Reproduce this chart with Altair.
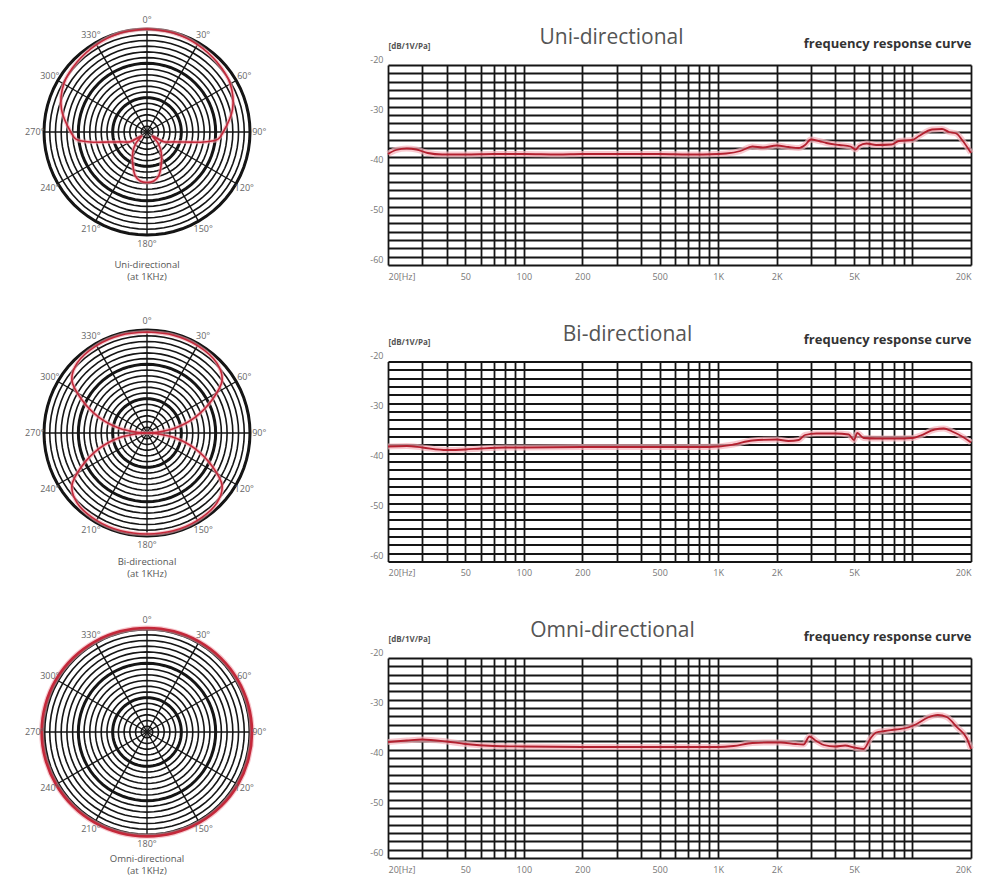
import altair as alt
import pandas as pd

FONT = "Open Sans"

# ---------------- frequency response data ----------------
uni_hz = [20, 22, 25, 28, 32, 38, 50, 70, 100, 150, 200, 300, 500, 700, 1000, 1100, 1300, 1500, 1700,
          2000, 2300, 2600, 2800, 3000, 3300, 3600, 4200, 4800, 5100, 5300, 5800, 6500, 7800, 8500,
          10000, 10800, 12600, 14200, 15400, 16800, 18000, 20000]
uni_db = [-37.8, -37.0, -36.7, -36.9, -37.6, -37.9, -37.9, -37.8, -37.8, -37.9, -37.8, -37.8, -37.8, -37.9,
          -37.8, -37.7, -37.2, -36.3, -36.5, -36.1, -36.4, -36.6, -36.0, -34.9, -35.2, -35.6, -36.0, -36.3,
          -36.9, -36.2, -35.7, -36.0, -35.9, -35.2, -35.0, -34.2, -32.9, -32.8, -33.4, -33.7, -35.0, -37.6]

bi_hz = [20, 25, 30, 40, 50, 60, 80, 100, 200, 500, 800, 1000, 1200, 1500, 2000, 2300, 2600, 2800, 3200,
         4000, 4700, 5000, 5200, 5600, 6500, 8000, 10000, 11000, 13000, 14500, 16000, 18000, 20000]
bi_db = [-37.0, -36.9, -37.2, -37.7, -37.6, -37.4, -37.2, -37.2, -37.1, -37.1, -37.1, -37.0, -36.6, -35.8,
         -35.6, -35.9, -35.7, -34.7, -34.4, -34.4, -34.6, -35.7, -34.3, -35.3, -35.4, -35.4, -35.3, -34.8,
         -33.6, -33.4, -34.0, -35.0, -36.2]

omni_hz = [20, 25, 30, 40, 50, 70, 100, 200, 500, 1000, 1200, 1500, 1800, 2100, 2500, 2750, 2950, 3200,
           3500, 4000, 4500, 5000, 5600, 6100, 6500, 7200, 8200, 9500, 10500, 12000, 13500, 15000, 17000,
           19000, 20000]
omni_db = [-36.8, -36.5, -36.3, -36.7, -37.2, -37.6, -37.7, -37.8, -37.8, -37.8, -37.6, -37.0, -36.9, -36.9,
           -37.2, -37.3, -35.7, -36.6, -37.4, -37.7, -37.5, -37.9, -38.2, -36.0, -34.9, -34.6, -34.3, -33.9,
           -33.2, -31.9, -31.4, -31.8, -33.9, -36.0, -38.2]

# ---------------- polar pattern data (dB, 0 dB = outer ring, -30 dB = centre) ----------------
uni_angle = [0, 15, 30, 45, 60, 75, 90, 96, 100, 105, 110, 120, 127, 135, 145, 155, 165, 172, 180,
             188, 195, 205, 215, 225, 233, 240, 250, 255, 260, 264, 270, 285, 300, 315, 330, 345, 360]
uni_pdb = [0.0, -0.15, -0.6, -1.2, -2.0, -4.2, -7.8, -9.3, -13.2, -18.7, -21.6, -24.3, -28.0, -25.5, -22.8,
           -20.1, -16.8, -15.6, -15.3, -15.6, -16.8, -20.1, -22.8, -25.5, -28.0, -24.3, -21.6, -18.7, -13.2,
           -9.3, -7.8, -4.2, -2.0, -1.2, -0.6, -0.15, 0.0]

bi_angle = [0, 15, 30, 45, 55, 63, 72, 80, 86, 90, 94, 100, 108, 117, 125, 135, 150, 165, 180,
            195, 210, 225, 235, 243, 252, 260, 266, 270, 274, 280, 288, 297, 305, 315, 330, 345, 360]
bi_pdb = [-0.6, -0.5, -0.6, -1.2, -3.3, -8.7, -15.3, -21.6, -27.0, -30.0, -27.0, -21.6, -15.3, -8.7, -3.3,
          -1.2, -0.6, -0.5, -0.6, -0.5, -0.6, -1.2, -3.3, -8.7, -15.3, -21.6, -27.0, -30.0, -27.0, -21.6,
          -15.3, -8.7, -3.3, -1.2, -0.6, -0.5, -0.6]

omni_angle = [0, 15, 30, 45, 60, 75, 90, 105, 120, 135, 150, 165, 180, 195, 210, 225, 240, 255, 270,
              285, 300, 315, 330, 345]
omni_pdb = [0.3, 0.35, 0.4, 0.45, 0.5, 0.55, 0.6, 0.6, 0.6, 0.55, 0.5, 0.45, 0.4, 0.45, 0.5, 0.55, 0.6,
            0.65, 0.7, 0.65, 0.6, 0.5, 0.4, 0.35]

# ---------------- axes / grids ----------------
freq_grid_hz = [20, 30, 40, 50, 60, 70, 80, 90, 100, 200, 300, 400, 500, 600, 700, 800, 900,
                1000, 2000, 3000, 4000, 5000, 6000, 7000, 8000, 9000, 10000, 20000]
freq_label_hz = [20, 50, 100, 200, 500, 1000, 2000, 5000, 20000]
freq_label_text = ["20[Hz]", "50", "100", "200", "500", "1K", "2K", "5K", "20K"]
db_grid = [round(-20 - i * 5 / 3, 4) for i in range(25)]
db_label_values = [-20, -30, -40, -50, -60]
db_label_text = ["-20", "-30", "-40", "-50", "-60"]

polar_label_angles = [0, 30, 60, 90, 120, 150, 180, 210, 240, 270, 300, 330]
polar_label_text = ["0°", "30°", "60°", "90°", "120°", "150°", "180°", "210°", "240°", "270°", "300°", "330°"]
spoke_angles = [0, 30, 60, 90, 120, 150, 180, 210, 240, 270, 300, 330]
ring_levels_db = [round(-i * 5 / 3, 3) for i in range(18)]
bold_ring_levels_db = [0, -10, -20]
ring_angles = list(range(0, 361, 5))

row_titles = ["Uni-directional", "Bi-directional", "Omni-directional"]

# ---------------- tables ----------------
rings_df = pd.DataFrame([(l, a) for l in ring_levels_db for a in ring_angles], columns=["db", "angle"])
bold_df = pd.DataFrame([(l, a) for l in bold_ring_levels_db for a in ring_angles], columns=["db", "angle"])
spokes_df = pd.DataFrame([(a, d) for a in spoke_angles for d in (-30, 0)], columns=["angle", "db"])
labels_df = pd.DataFrame({"angle": polar_label_angles, "label": polar_label_text})

x_label_expr = " : ".join(f"datum.value == {v} ? '{t}'" for v, t in zip(freq_label_hz, freq_label_text)) + " : ''"
y_label_expr = " : ".join(f"abs(datum.value - ({v})) < 0.01 ? '{t}'" for v, t in zip(db_label_values, db_label_text)) + " : ''"

R_PX = 103
PW, PH = 206, 190


def polar_calc(ch):
    return ch.transform_calculate(
        r="max(0, 1 + datum.db / 30)"
    ).transform_calculate(
        px="datum.r * sin(datum.angle * PI / 180)",
        py="datum.r * cos(datum.angle * PI / 180)",
    )


def polar_panel(angles, dbs, title, cy, thick=False):
    xs = alt.Scale(domain=[-PW / 2 / R_PX, PW / 2 / R_PX], nice=False, zero=False)
    ys = alt.Scale(domain=[-(PH - cy) / R_PX, cy / R_PX], nice=False, zero=False)
    X = alt.X("px:Q", scale=xs, axis=None)
    Y = alt.Y("py:Q", scale=ys, axis=None)
    pat = pd.DataFrame({"angle": angles, "db": dbs})
    interp = "cardinal-closed" if thick else "catmull-rom"
    rings = polar_calc(alt.Chart(rings_df)).mark_line(color="#151515", strokeWidth=1.6).encode(
        x=X, y=Y, detail="db:N", order="angle:Q")
    bold = polar_calc(alt.Chart(bold_df)).mark_line(color="#151515", strokeWidth=3).encode(
        x=X, y=Y, detail="db:N", order="angle:Q")
    spokes = polar_calc(alt.Chart(spokes_df)).mark_line(color="#151515", strokeWidth=1.4).encode(
        x=X, y=Y, detail="angle:N", order="db:Q")
    halo = polar_calc(alt.Chart(pat)).mark_line(
        color="#f2a3ad", strokeWidth=5 if thick else 4, opacity=0.6, interpolate=interp).encode(
        x=X, y=Y, order="angle:Q")
    line = polar_calc(alt.Chart(pat)).mark_line(
        color="#c4283a", strokeWidth=2.6 if thick else 1.6, interpolate=interp).encode(
        x=X, y=Y, order="angle:Q")
    labels = alt.Chart(labels_df).transform_calculate(
        px="1.09 * sin(datum.angle * PI / 180)",
        py="1.09 * cos(datum.angle * PI / 180)",
    ).mark_text(font=FONT, fontSize=9, color="#666").encode(x=X, y=Y, text="label:N")
    return alt.layer(rings, bold, spokes, halo, line, labels).properties(
        width=PW, height=PH,
        title=alt.TitleParams(text=[title, "(at 1KHz)"], orient="bottom", anchor="middle", frame="group",
                              offset=5, font=FONT, fontSize=9.5, fontWeight="normal", color="#555",
                              lineHeight=12),
    )


def freq_panel(hz, db, title, dx):
    df = pd.DataFrame({"freq": hz, "db": db})
    xs = alt.Scale(type="log", domain=[20, 20000], nice=False)
    ys = alt.Scale(domain=[-60, -20], nice=False, zero=False)
    x_axis = alt.Axis(values=freq_grid_hz, labelExpr=x_label_expr, grid=True, gridColor="#151515",
                      gridWidth=1.8, gridOpacity=1, ticks=False, domain=False, labelFont=FONT,
                      labelFontSize=9, labelColor="#777", labelPadding=7, labelOverlap=False, title=None)
    y_left = alt.Axis(values=db_grid, labelExpr=y_label_expr, grid=True, gridColor="#151515", gridWidth=1.8,
                      gridOpacity=1, ticks=False, domain=False, labelFont=FONT, labelFontSize=9,
                      labelColor="#777", labelPadding=5, labelOffset=-6, labelOverlap=False,
                      title="[dB/1V/Pa]", titleAngle=0, titleAlign="left", titleBaseline="middle",
                      titleX=0, titleY=-19, titleFont=FONT, titleFontSize=8, titleFontWeight="bold",
                      titleColor="#555")
    y_right = alt.Axis(orient="right", labels=False, ticks=False, domain=False, grid=False,
                       title="frequency response curve", titleAngle=0, titleAlign="right",
                       titleBaseline="middle", titleX=0, titleY=-22, titleFont=FONT, titleFontSize=13,
                       titleFontWeight="bold", titleColor="#333")
    halo = alt.Chart(df).mark_line(color="#f6b3bc", strokeWidth=6, opacity=0.7, interpolate="monotone").encode(
        x=alt.X("freq:Q", scale=xs, axis=x_axis), y=alt.Y("db:Q", scale=ys, axis=y_left))
    line = alt.Chart(df).mark_line(color="#b3202f", strokeWidth=1.8, interpolate="monotone").encode(
        x=alt.X("freq:Q", scale=xs, axis=x_axis), y=alt.Y("db:Q", scale=ys, axis=y_right))
    return alt.layer(halo, line).resolve_axis(y="independent").properties(
        width=583, height=200,
        title=alt.TitleParams(text=title, anchor="middle", frame="group", dx=dx, offset=-11,
                              font=FONT, fontSize=21, fontWeight="normal", color="#555"),
    )


panels = [
    polar_panel(uni_angle, uni_pdb, row_titles[0], 67),
    freq_panel(uni_hz, uni_db, row_titles[0], -68),
    polar_panel(bi_angle, bi_pdb, row_titles[1], 71.5),
    freq_panel(bi_hz, bi_db, row_titles[1], -52),
    polar_panel(omni_angle, omni_pdb, row_titles[2], 74, thick=True),
    freq_panel(omni_hz, omni_db, row_titles[2], -67),
]

chart = alt.ConcatChart(
    concat=panels, columns=2, spacing={"row": 96.5, "column": 138}, bounds="flush",
).properties(
    padding={"left": 25, "top": 15, "right": 5, "bottom": 5},
    background="white",
).configure_view(strokeWidth=0)

chart.save("out.html", embed_options={"renderer": "svg", "actions": False})
